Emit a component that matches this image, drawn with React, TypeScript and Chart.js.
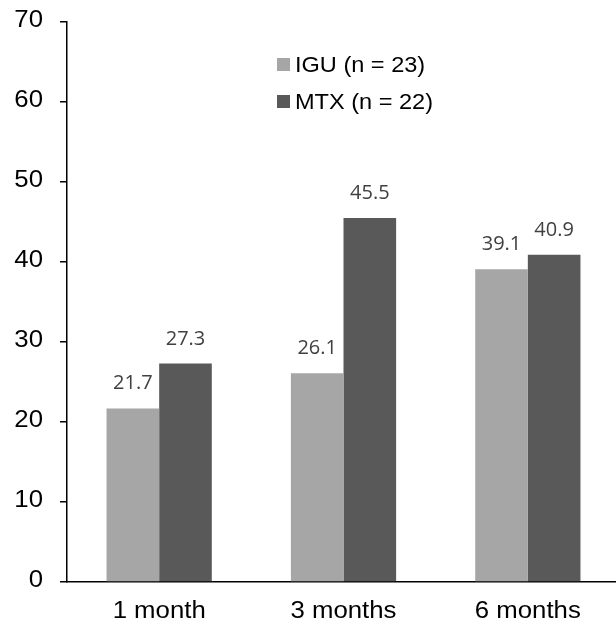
import React, { useEffect, useRef } from "react";
import { Chart, registerables } from "chart.js";

Chart.register(...registerables);

const categories = ["1 month", "3 months", "6 months"];
const seriesNames = ["IGU (n = 23)", "MTX (n = 22)"];
const iguValues = [21.7, 26.1, 39.1];
const mtxValues = [27.3, 45.5, 40.9];
const yTicks = [0, 10, 20, 30, 40, 50, 60, 70];
const colors = ["#a6a6a6", "#595959"];

const AXIS_FONT = "'Liberation Sans', Arial, sans-serif";
const LABEL_FONT = "'Open Sans', sans-serif";
const TEXT_STRETCH = 1.12;

// Draws text slightly widened horizontally around its anchor point
function wideText(ctx: CanvasRenderingContext2D, text: string, x: number, y: number, sx: number) {
  ctx.save();
  ctx.translate(x, y);
  ctx.scale(sx, 1);
  ctx.fillText(text, 0, 0);
  ctx.restore();
}

// Axis tick labels for both scales
const axisLabels = {
  id: "axisLabels",
  afterDraw(chart: any) {
    const ctx = chart.ctx;
    const xs = chart.scales.x;
    const ys = chart.scales.y;
    ctx.save();
    ctx.fillStyle = "#000";
    ctx.font = `23px ${AXIS_FONT}`;
    ctx.textBaseline = "middle";
    ctx.textAlign = "right";
    ys.ticks.forEach((t: any) => {
      wideText(ctx, String(t.value), ys.left + 43, ys.getPixelForValue(t.value) - 1, TEXT_STRETCH);
    });
    ctx.textAlign = "center";
    categories.forEach((c, i) => {
      wideText(ctx, c, xs.getPixelForValue(i), xs.top + 30, TEXT_STRETCH);
    });
    ctx.restore();
  },
};

// Value labels above each bar
const valueLabels = {
  id: "valueLabels",
  afterDatasetsDraw(chart: any) {
    const ctx = chart.ctx;
    ctx.save();
    ctx.font = `20px ${LABEL_FONT}`;
    ctx.fillStyle = "#404040";
    ctx.textAlign = "center";
    ctx.textBaseline = "alphabetic";
    chart.data.datasets.forEach((ds: any, i: number) => {
      const meta = chart.getDatasetMeta(i);
      meta.data.forEach((bar: any, j: number) => {
        ctx.fillText(ds.data[j].toFixed(1), bar.x, bar.y - 19);
      });
    });
    ctx.restore();
  },
};

// Legend drawn inside the plot area, square markers with text on the right
const insideLegend = {
  id: "insideLegend",
  afterDraw(chart: any) {
    const ctx = chart.ctx;
    const area = chart.chartArea;
    const x0 = area.left + 210;
    const y0 = area.top + 43;
    const rowGap = 37;
    ctx.save();
    ctx.font = `22px ${AXIS_FONT}`;
    ctx.textAlign = "left";
    ctx.textBaseline = "middle";
    chart.data.datasets.forEach((ds: any, i: number) => {
      const y = y0 + i * rowGap;
      ctx.fillStyle = ds.backgroundColor;
      ctx.fillRect(x0, y - 7, 13, 13);
      ctx.fillStyle = "#000";
      wideText(ctx, ds.label, x0 + 18, y + 1, 1.07);
    });
    ctx.restore();
  },
};

export default function App() {
  const ref = useRef<HTMLCanvasElement | null>(null);

  useEffect(() => {
    if (!ref.current) return;
    const chart = new Chart(ref.current, {
      type: "bar",
      data: {
        labels: categories,
        datasets: [
          { label: seriesNames[0], data: iguValues, backgroundColor: colors[0] },
          { label: seriesNames[1], data: mtxValues, backgroundColor: colors[1] },
        ],
      },
      options: {
        animation: false,
        responsive: false,
        maintainAspectRatio: false,
        layout: { padding: { top: 22, left: 0, right: 0, bottom: 0 } },
        datasets: {
          bar: { categoryPercentage: 0.571, barPercentage: 1 },
        },
        plugins: {
          legend: { display: false },
          tooltip: { enabled: false },
        },
        scales: {
          x: {
            grid: { display: false, drawTicks: false },
            border: { display: true, color: "#000", width: 1.5 },
            ticks: { display: false },
            afterFit(scale: any) {
              scale.height = 44;
            },
          },
          y: {
            min: 0,
            max: 70,
            afterBuildTicks(scale: any) {
              scale.ticks = yTicks.map((v) => ({ value: v }));
            },
            grid: {
              drawOnChartArea: false,
              drawTicks: true,
              tickLength: 7,
              color: "#000",
              lineWidth: 1.5,
            },
            border: { display: true, color: "#000", width: 1.5 },
            ticks: { display: false },
            afterFit(scale: any) {
              scale.width = 67;
            },
          },
        },
      },
      plugins: [valueLabels, insideLegend, axisLabels],
    });
    return () => chart.destroy();
  }, []);

  return (
    <div
      style={{
        position: "absolute",
        left: 0,
        top: 0,
        width: 616,
        height: 626,
        overflow: "hidden",
        background: "#fff",
      }}
    >
      <canvas ref={ref} width={620} height={626} style={{ display: "block" }} />
    </div>
  );
}
